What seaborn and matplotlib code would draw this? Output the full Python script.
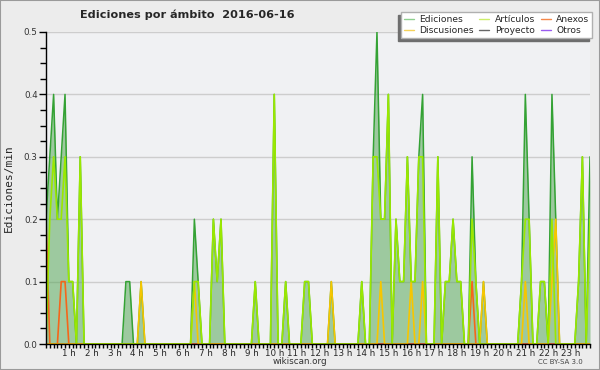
import numpy as np
import pandas as pd
import matplotlib
matplotlib.use("Agg")
import matplotlib.pyplot as plt
import seaborn as sns
from matplotlib.lines import Line2D
from matplotlib.patches import Rectangle
from matplotlib.ticker import MultipleLocator

# ====================================
# Datos: ediciones/min por tramos de 10 min (12 tramos = 2 h por fila)
# ====================================

ediciones = [
    0.2, 0.3, 0.4, 0.2, 0.3, 0.4, 0.1, 0.1, 0.0, 0.3, 0.0, 0.0,
    0.0, 0.0, 0.0, 0.0, 0.0, 0.0, 0.0, 0.0, 0.0, 0.1, 0.1, 0.0,
    0.0, 0.1, 0.0, 0.0, 0.0, 0.0, 0.0, 0.0, 0.0, 0.0, 0.0, 0.0,
    0.0, 0.0, 0.0, 0.2, 0.1, 0.0, 0.0, 0.0, 0.2, 0.1, 0.2, 0.0,
    0.0, 0.0, 0.0, 0.0, 0.0, 0.0, 0.0, 0.1, 0.0, 0.0, 0.0, 0.0,
    0.4, 0.0, 0.0, 0.1, 0.0, 0.0, 0.0, 0.0, 0.1, 0.1, 0.0, 0.0,
    0.0, 0.0, 0.0, 0.1, 0.0, 0.0, 0.0, 0.0, 0.0, 0.0, 0.0, 0.1,
    0.0, 0.0, 0.3, 0.5, 0.2, 0.2, 0.4, 0.0, 0.2, 0.1, 0.1, 0.3,
    0.1, 0.1, 0.3, 0.4, 0.0, 0.0, 0.0, 0.3, 0.0, 0.1, 0.1, 0.2,
    0.1, 0.1, 0.0, 0.0, 0.3, 0.1, 0.0, 0.1, 0.0, 0.0, 0.0, 0.0,
    0.0, 0.0, 0.0, 0.0, 0.0, 0.1, 0.4, 0.2, 0.0, 0.0, 0.1, 0.1,
    0.0, 0.4, 0.2, 0.0, 0.0, 0.0, 0.0, 0.0, 0.1, 0.3, 0.0, 0.3,
]

articulos = [
    0.0, 0.2, 0.3, 0.2, 0.2, 0.3, 0.1, 0.1, 0.0, 0.3, 0.0, 0.0,
    0.0, 0.0, 0.0, 0.0, 0.0, 0.0, 0.0, 0.0, 0.0, 0.0, 0.0, 0.0,
    0.0, 0.0, 0.0, 0.0, 0.0, 0.0, 0.0, 0.0, 0.0, 0.0, 0.0, 0.0,
    0.0, 0.0, 0.0, 0.1, 0.1, 0.0, 0.0, 0.0, 0.2, 0.1, 0.2, 0.0,
    0.0, 0.0, 0.0, 0.0, 0.0, 0.0, 0.0, 0.1, 0.0, 0.0, 0.0, 0.0,
    0.4, 0.0, 0.0, 0.1, 0.0, 0.0, 0.0, 0.0, 0.1, 0.1, 0.0, 0.0,
    0.0, 0.0, 0.0, 0.0, 0.0, 0.0, 0.0, 0.0, 0.0, 0.0, 0.0, 0.1,
    0.0, 0.0, 0.3, 0.3, 0.2, 0.2, 0.4, 0.0, 0.2, 0.1, 0.1, 0.3,
    0.1, 0.1, 0.3, 0.3, 0.0, 0.0, 0.0, 0.3, 0.0, 0.1, 0.1, 0.2,
    0.1, 0.1, 0.0, 0.0, 0.2, 0.1, 0.0, 0.0, 0.0, 0.0, 0.0, 0.0,
    0.0, 0.0, 0.0, 0.0, 0.0, 0.1, 0.2, 0.2, 0.0, 0.0, 0.1, 0.1,
    0.0, 0.2, 0.0, 0.0, 0.0, 0.0, 0.0, 0.0, 0.1, 0.3, 0.0, 0.2,
]

discusiones = [
    0.0, 0.0, 0.0, 0.0, 0.0, 0.0, 0.0, 0.0, 0.0, 0.0, 0.0, 0.0,
    0.0, 0.0, 0.0, 0.0, 0.0, 0.0, 0.0, 0.0, 0.0, 0.0, 0.0, 0.0,
    0.0, 0.1, 0.0, 0.0, 0.0, 0.0, 0.0, 0.0, 0.0, 0.0, 0.0, 0.0,
    0.0, 0.0, 0.0, 0.1, 0.0, 0.0, 0.0, 0.0, 0.0, 0.0, 0.0, 0.0,
    0.0, 0.0, 0.0, 0.0, 0.0, 0.0, 0.0, 0.0, 0.0, 0.0, 0.0, 0.0,
    0.0, 0.0, 0.0, 0.0, 0.0, 0.0, 0.0, 0.0, 0.0, 0.0, 0.0, 0.0,
    0.0, 0.0, 0.0, 0.1, 0.0, 0.0, 0.0, 0.0, 0.0, 0.0, 0.0, 0.0,
    0.0, 0.0, 0.0, 0.0, 0.1, 0.0, 0.0, 0.0, 0.0, 0.0, 0.0, 0.0,
    0.1, 0.0, 0.0, 0.1, 0.0, 0.0, 0.0, 0.0, 0.0, 0.0, 0.0, 0.0,
    0.0, 0.0, 0.0, 0.0, 0.0, 0.0, 0.0, 0.1, 0.0, 0.0, 0.0, 0.0,
    0.0, 0.0, 0.0, 0.0, 0.0, 0.0, 0.1, 0.0, 0.0, 0.0, 0.0, 0.0,
    0.0, 0.1, 0.2, 0.0, 0.0, 0.0, 0.0, 0.0, 0.0, 0.0, 0.0, 0.0,
]

anexos = [
    0.2, 0.0, 0.0, 0.0, 0.1, 0.1, 0.0, 0.0, 0.0, 0.0, 0.0, 0.0,
    0.0, 0.0, 0.0, 0.0, 0.0, 0.0, 0.0, 0.0, 0.0, 0.0, 0.0, 0.0,
    0.0, 0.0, 0.0, 0.0, 0.0, 0.0, 0.0, 0.0, 0.0, 0.0, 0.0, 0.0,
    0.0, 0.0, 0.0, 0.0, 0.0, 0.0, 0.0, 0.0, 0.0, 0.0, 0.0, 0.0,
    0.0, 0.0, 0.0, 0.0, 0.0, 0.0, 0.0, 0.0, 0.0, 0.0, 0.0, 0.0,
    0.0, 0.0, 0.0, 0.0, 0.0, 0.0, 0.0, 0.0, 0.0, 0.0, 0.0, 0.0,
    0.0, 0.0, 0.0, 0.0, 0.0, 0.0, 0.0, 0.0, 0.0, 0.0, 0.0, 0.0,
    0.0, 0.0, 0.0, 0.0, 0.0, 0.0, 0.0, 0.0, 0.0, 0.0, 0.0, 0.0,
    0.0, 0.0, 0.0, 0.0, 0.0, 0.0, 0.0, 0.0, 0.0, 0.0, 0.0, 0.0,
    0.0, 0.0, 0.0, 0.0, 0.1, 0.0, 0.0, 0.0, 0.0, 0.0, 0.0, 0.0,
    0.0, 0.0, 0.0, 0.0, 0.0, 0.0, 0.0, 0.0, 0.0, 0.0, 0.0, 0.0,
    0.0, 0.0, 0.0, 0.0, 0.0, 0.0, 0.0, 0.0, 0.0, 0.0, 0.0, 0.0,
]

proyecto = [
    0.0, 0.0, 0.0, 0.0, 0.0, 0.0, 0.0, 0.0, 0.0, 0.0, 0.0, 0.0,
    0.0, 0.0, 0.0, 0.0, 0.0, 0.0, 0.0, 0.0, 0.0, 0.0, 0.0, 0.0,
    0.0, 0.0, 0.0, 0.0, 0.0, 0.0, 0.0, 0.0, 0.0, 0.0, 0.0, 0.0,
    0.0, 0.0, 0.0, 0.0, 0.0, 0.0, 0.0, 0.0, 0.0, 0.0, 0.0, 0.0,
    0.0, 0.0, 0.0, 0.0, 0.0, 0.0, 0.0, 0.0, 0.0, 0.0, 0.0, 0.0,
    0.0, 0.0, 0.0, 0.0, 0.0, 0.0, 0.0, 0.0, 0.0, 0.0, 0.0, 0.0,
    0.0, 0.0, 0.0, 0.0, 0.0, 0.0, 0.0, 0.0, 0.0, 0.0, 0.0, 0.0,
    0.0, 0.0, 0.0, 0.0, 0.0, 0.0, 0.0, 0.0, 0.0, 0.0, 0.0, 0.0,
    0.0, 0.0, 0.0, 0.0, 0.0, 0.0, 0.0, 0.0, 0.0, 0.0, 0.0, 0.0,
    0.0, 0.0, 0.0, 0.0, 0.0, 0.0, 0.0, 0.0, 0.0, 0.0, 0.0, 0.0,
    0.0, 0.0, 0.0, 0.0, 0.0, 0.0, 0.0, 0.0, 0.0, 0.0, 0.0, 0.0,
    0.0, 0.0, 0.0, 0.0, 0.0, 0.0, 0.0, 0.0, 0.0, 0.0, 0.0, 0.0,
]

otros = [
    0.0, 0.0, 0.0, 0.0, 0.0, 0.0, 0.0, 0.0, 0.0, 0.0, 0.0, 0.0,
    0.0, 0.0, 0.0, 0.0, 0.0, 0.0, 0.0, 0.0, 0.0, 0.0, 0.0, 0.0,
    0.0, 0.0, 0.0, 0.0, 0.0, 0.0, 0.0, 0.0, 0.0, 0.0, 0.0, 0.0,
    0.0, 0.0, 0.0, 0.0, 0.0, 0.0, 0.0, 0.0, 0.0, 0.0, 0.0, 0.0,
    0.0, 0.0, 0.0, 0.0, 0.0, 0.0, 0.0, 0.0, 0.0, 0.0, 0.0, 0.0,
    0.0, 0.0, 0.0, 0.0, 0.0, 0.0, 0.0, 0.0, 0.0, 0.0, 0.0, 0.0,
    0.0, 0.0, 0.0, 0.0, 0.0, 0.0, 0.0, 0.0, 0.0, 0.0, 0.0, 0.0,
    0.0, 0.0, 0.0, 0.0, 0.0, 0.0, 0.0, 0.0, 0.0, 0.0, 0.0, 0.0,
    0.0, 0.0, 0.0, 0.0, 0.0, 0.0, 0.0, 0.0, 0.0, 0.0, 0.0, 0.0,
    0.0, 0.0, 0.0, 0.0, 0.0, 0.0, 0.0, 0.0, 0.0, 0.0, 0.0, 0.0,
    0.0, 0.0, 0.0, 0.0, 0.0, 0.0, 0.0, 0.0, 0.0, 0.0, 0.0, 0.0,
    0.0, 0.0, 0.0, 0.0, 0.0, 0.0, 0.0, 0.0, 0.0, 0.0, 0.0, 0.0,
]

etiquetas_horas = [
    "1 h", "2 h", "3 h", "4 h", "5 h", "6 h", "7 h", "8 h", "9 h", "10 h", "11 h",
    "12 h", "13 h", "14 h", "15 h", "16 h", "17 h", "18 h", "19 h", "20 h",
    "21 h", "22 h", "23 h",
]

# hora de cada tramo de 10 min
horas = np.arange(len(ediciones)) / 6

df = pd.DataFrame({
    "hora": horas,
    "Proyecto": proyecto,
    "Otros": otros,
    "Anexos": anexos,
    "Discusiones": discusiones,
    "Artículos": articulos,
})
df_largo = df.melt(id_vars="hora", var_name="ambito", value_name="valor")

colores = {
    "Artículos": "#9ae800",
    "Discusiones": "#f7c600",
    "Anexos": "#f5661a",
    "Proyecto": "#444444",
    "Otros": "#8a3ffc",
}
color_total = "#34a234"

# ====================================
# Figura
# ====================================

sns.set_style("white")
plt.rcParams["font.family"] = ["DejaVu Sans"]

fig = plt.figure(figsize=(6, 3.7), dpi=100, facecolor="#ececec")
ax = fig.add_axes([46 / 600, 1 - 344 / 370, 544 / 600, 312 / 370])
ax.set_facecolor("#f0f1f3")

# relleno y total primero, luego los ámbitos encima
ax.fill_between(horas, ediciones, color="#5aa85a", alpha=0.55, lw=0, zorder=2)
sns.lineplot(x=horas, y=ediciones, color=color_total, linewidth=1.1, ax=ax, zorder=3)

sns.lineplot(data=df_largo, x="hora", y="valor", hue="ambito",
             hue_order=["Proyecto", "Otros", "Anexos", "Discusiones", "Artículos"],
             palette=colores, linewidth=1.2, legend=False, ax=ax, zorder=4)

ax.set_xlim(0, horas[-1])
ax.yaxis.set_major_locator(MultipleLocator(0.1))
ax.yaxis.set_minor_locator(MultipleLocator(0.025))
ax.set_yticks(ax.get_yticks())
ax.set_yticklabels([f"{v:.1f}" for v in ax.get_yticks()])
ax.set_ylim(0, 0.5)
ax.set_xticks(np.arange(1, 24))
ax.set_xticklabels(etiquetas_horas)
ax.xaxis.set_minor_locator(MultipleLocator(1 / 6))

ax.tick_params(left=True, bottom=True, which="both", direction="out", color="black")
ax.tick_params(axis="y", which="major", length=5, width=1, labelsize=6.3, pad=1,
               labelcolor="#333333")
ax.tick_params(axis="y", which="minor", length=4, width=1)
ax.tick_params(axis="x", which="both", length=3, width=1)
ax.tick_params(axis="x", which="major", labelsize=6.3, pad=0.5)

ax.grid(axis="y", color="#cdcdcd", linewidth=1, zorder=0)
ax.set_axisbelow(True)
for lado in ["top", "right"]:
    ax.spines[lado].set_visible(False)
for lado in ["left", "bottom"]:
    ax.spines[lado].set_color("black")
    ax.spines[lado].set_linewidth(1)
    ax.spines[lado].set_zorder(5)

ax.set_xlabel("")
ax.set_ylabel("Ediciones/min", family="DejaVu Sans Mono", fontsize=8, labelpad=7)

fig.text(187 / 600, 1 - 15 / 370, "Ediciones por ámbito  2016-06-16",
         ha="center", va="center", fontsize=8.1, fontweight="bold")
fig.text(300 / 600, 1 - 362 / 370, "wikiscan.org", ha="center", va="center",
         fontsize=6.3, color="#333333")
fig.text(560 / 600, 1 - 362 / 370, "CC BY-SA 3.0", ha="center", va="center",
         fontsize=5, color="#444444")

# leyenda (columnas: Ediciones/Discusiones, Artículos/Proyecto, Anexos/Otros)
orden = ["Ediciones", "Discusiones", "Artículos", "Proyecto", "Anexos", "Otros"]
colores_leyenda = {
    "Ediciones": "#8fd08f",
    "Discusiones": "#f5d25a",
    "Artículos": "#cdee6a",
    "Proyecto": "#666666",
    "Anexos": "#f5884a",
    "Otros": "#9a5cf0",
}
opciones = dict(ncol=3, loc="upper right", fontsize=6.6, frameon=True,
                fancybox=False, framealpha=1, handlelength=1.1,
                handletextpad=0.6, columnspacing=0.6, labelspacing=0.25,
                borderpad=0.3, borderaxespad=0)

# sombra: la misma caja en gris, desplazada 3 px a la izquierda y abajo
# (solo se ve el marco; textos y líneas ocultos)
gris = "#6e6e6e"
sombra = fig.legend([Line2D([0], [0], color=gris, lw=1) for _ in orden], orden,
                    bbox_to_anchor=(589 / 600, 1 - 15 / 370),
                    facecolor=gris, edgecolor=gris, **opciones)
for t in sombra.get_texts():
    t.set_visible(False)
for h in sombra.legend_handles:
    h.set_visible(False)

manijas = [Line2D([0], [0], color=colores_leyenda[n], lw=1) for n in orden]
leyenda = fig.legend(manijas, orden, bbox_to_anchor=(592 / 600, 1 - 12 / 370),
                     facecolor="white", edgecolor="#b0b0b0", **opciones)
leyenda.get_frame().set_linewidth(1)

fig.patches.append(Rectangle((0, 0), 1, 1, transform=fig.transFigure, fill=False,
                             edgecolor="#9a9a9a", linewidth=1.5))

fig.savefig("out.png", dpi=100, facecolor=fig.get_facecolor())
